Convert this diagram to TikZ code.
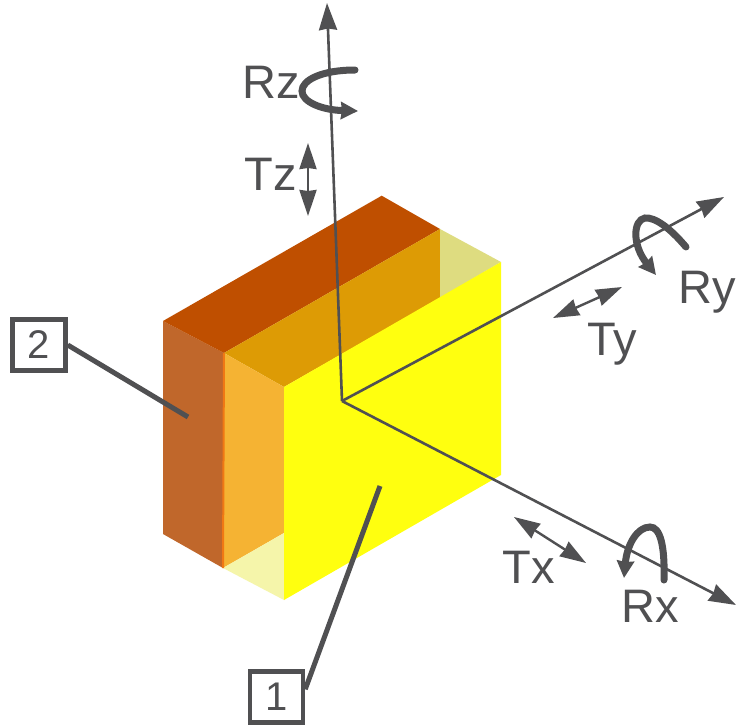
\documentclass[tikz,border=0pt]{standalone}
\usepackage{fontspec}
\setmainfont{Liberation Sans}
\usetikzlibrary{arrows.meta}
\definecolor{ink}{HTML}{505052}
\definecolor{brownface}{HTML}{C0672B}
\definecolor{topface}{HTML}{BF4F00}
\definecolor{amberface}{HTML}{DD9B05}
\definecolor{lightorange}{HTML}{F5B333}
\definecolor{paleone}{HTML}{DEDC80}
\definecolor{paletwo}{HTML}{F5F5AA}
\definecolor{yellowface}{HTML}{FFFF0F}
\definecolor{seam}{HTML}{F07814}
\tikzset{
  axisline/.style={draw=ink,line width=2.6pt,-{Stealth[length=27pt,width=18pt,inset=1.5pt]}},
  trans/.style={draw=ink,line width=2.4pt,{Stealth[length=26pt,width=17pt,inset=1pt]}-{Stealth[length=26pt,width=17pt,inset=1pt]}},
  rot/.style={draw=ink,line width=7pt,line cap=round,-{Stealth[length=17pt,width=17pt,inset=1pt]}},
  leader/.style={draw=ink,line width=5pt},
  lab/.style={text=ink,font=\fontsize{47}{47}\selectfont,anchor=base,inner sep=0pt},
  numbox/.style={draw=ink,line width=4.5pt,minimum width=53pt,minimum height=51pt,inner sep=0pt,text=ink,font=\fontsize{40}{40}\selectfont,fill=white}
}
\begin{document}
\begin{tikzpicture}[x=1pt,y=-1pt]
\useasboundingbox (0,0) rectangle (736,725);
% faces
\fill[white] (0,0) rectangle (736,725);
\fill[brownface] (163,321) -- (224,353) -- (223,568) -- (163,534) -- cycle;
\fill[topface] (163,321) -- (381.7,195.7) -- (440,229) -- (224,353) -- cycle;
\fill[amberface] (224,353) -- (440,229) -- (440,298) -- (284,387) -- cycle;
\fill[lightorange] (224,353) -- (284,387) -- (284,533) -- (223,568) -- cycle;
\fill[paleone] (440,229) -- (501,262) -- (440,298) -- cycle;
\fill[paletwo] (223,568) -- (284,533) -- (284,600) -- cycle;
\fill[yellowface] (284,387) -- (501,262) -- (501,475) -- (284,600) -- cycle;
\draw[line width=2pt,seam] (224,353) -- (223,568);
% axes
\coordinate (o) at (342,401);
\coordinate (zend) at (327,3);
\coordinate (yend) at (724,197);
\coordinate (xend) at (736,605);
\draw[axisline] (o) -- (zend);
\draw[axisline] (o) -- (yend);
\draw[axisline] (o) -- (xend);
% translations
\coordinate (tz1) at (308,143);
\coordinate (tz2) at (308,216);
\coordinate (ty1) at (553,318);
\coordinate (ty2) at (622,287);
\coordinate (tx1) at (514,517);
\coordinate (tx2) at (586,563);
\draw[trans] (tz1) -- (tz2);
\draw[trans] (ty1) -- (ty2);
\draw[trans] (tx1) -- (tx2);
% rotations
\coordinate (rz1) at (355,70);
\coordinate (rz2) at (358,111);
\draw[rot] (rz1) .. controls (322,70) and (302,80) .. (302,91) .. controls (302,102) and (322,110) .. (rz2);
\coordinate (ry1) at (686,247);
\coordinate (ry2) at (656,275);
\draw[rot] (ry1) .. controls (670,228) and (655,217) .. (645,218) .. controls (633,220) and (632,245) .. (ry2);
\coordinate (rx1) at (664,580);
\coordinate (rx2) at (624,578);
\draw[rot] (rx1) .. controls (665,545) and (660,527) .. (650,527) .. controls (637,527) and (627,545) .. (rx2);
% labels
\node[lab] (lrz) at (271,98) {Rz};
\node[lab] (ltz) at (271,190) {Tz};
\node[lab] (lry) at (707,303) {Ry};
\node[lab] (lty) at (612,355) {Ty};
\node[lab] (ltx) at (529,583) {Tx};
\node[lab] (lrx) at (650,622) {Rx};
% callouts
\node[numbox] (b2) at (39,345) {2};
\node[numbox] (b1) at (276.5,697) {1};
\coordinate (p2) at (188,417);
\coordinate (p1) at (380,486);
\draw[leader] (b2.east) -- (p2);
\draw[leader] (b1.north east) ++(0,20) -- (p1);
\end{tikzpicture}
\end{document}
